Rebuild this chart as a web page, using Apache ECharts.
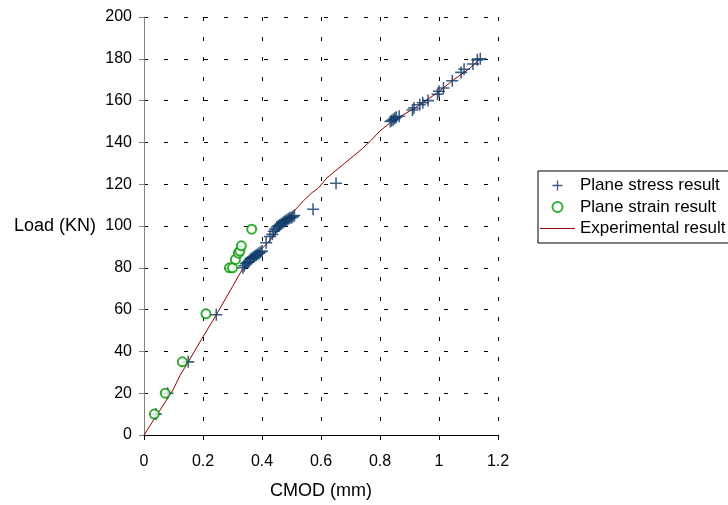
<!DOCTYPE html>
<html>
<head>
<meta charset="utf-8">
<script src="https://cdn.jsdelivr.net/npm/echarts@6/dist/echarts.min.js"></script>
<style>
  html, body { margin: 0; padding: 0; background: #fff; }
  #chart { width: 728px; height: 505px; }
</style>
</head>
<body>
<div id="chart"></div>
<script>
// CMOD (mm), Load (KN)
const stressData = [
  [0.04, 10], [0.08, 20], [0.15, 35], [0.245, 57.5],
  [0.335, 80], [0.34, 81], [0.345, 82], [0.35, 82.5], [0.355, 83], [0.36, 84],
  [0.365, 84.5], [0.37, 85], [0.375, 85.5], [0.38, 86], [0.385, 86.5], [0.39, 87],
  [0.395, 87.5], [0.40, 88], [0.414, 92], [0.427, 95],
  [0.435, 96], [0.44, 97.5], [0.445, 98.5], [0.45, 99.5], [0.455, 100], [0.46, 100.5],
  [0.465, 101], [0.47, 101.5], [0.475, 102], [0.48, 102.5], [0.485, 103], [0.49, 103.5],
  [0.495, 104], [0.50, 104], [0.505, 104.5], [0.51, 105],
  [0.573, 108], [0.651, 120.5],
  [0.835, 150], [0.84, 150.5], [0.845, 151], [0.85, 151.5], [0.855, 152], [0.865, 152.5],
  [0.91, 155.5], [0.915, 156.5], [0.935, 158], [0.945, 159], [0.963, 160],
  [0.995, 163], [1.0, 164.5], [1.015, 166], [1.045, 169.5], [1.075, 173.5],
  [1.085, 175], [1.115, 177.5], [1.13, 179.5], [1.14, 180]
]
const strainData = [
  [0.035, 10], [0.072, 20], [0.13, 35], [0.21, 58], [0.29, 80], [0.30, 80],
  [0.31, 84], [0.32, 87], [0.325, 88], [0.33, 90.5], [0.365, 98.5]
]
const expData = [
  [0, 0], [0.05, 11], [0.1, 22], [0.122, 28.5], [0.15, 35], [0.2, 47], [0.245, 57.5],
  [0.3, 71], [0.336, 80], [0.37, 85], [0.416, 91.5], [0.46, 99], [0.495, 105],
  [0.54, 112], [0.57, 116], [0.59, 118], [0.62, 123], [0.68, 130], [0.74, 137],
  [0.77, 141], [0.8, 145.5], [0.835, 149.5], [0.87, 152.5], [0.913, 156],
  [0.95, 159.5], [0.992, 163.5], [1.05, 170], [1.1, 175], [1.14, 180]
]
const xTicks = { min: 0, max: 1.2, interval: 0.2 }
const yTicks = { min: 0, max: 200, interval: 20 }

const plusPath = 'path://M-0.13,-1L0.13,-1L0.13,-0.13L1,-0.13L1,0.13L0.13,0.13L0.13,1L-0.13,1L-0.13,0.13L-1,0.13L-1,-0.13L-0.13,-0.13Z'
const linePath = 'path://M0,0L35,0L35,1L0,1Z'
const font = 'Liberation Sans, Arial, sans-serif'

let chart = echarts.init(document.getElementById('chart'))
chart.setOption({
  animation: false,
  textStyle: { fontFamily: font },
  grid: { left: 144, right: 230, top: 17, bottom: 68 },
  legend: {
    orient: 'vertical',
    left: 538,
    top: 171,
    padding: [6, 80, 6, 2],
    itemWidth: 35,
    itemHeight: 10,
    itemGap: 4.5,
    borderColor: '#000',
    borderWidth: 1,
    textStyle: { fontSize: 17, color: '#000', lineHeight: 16, fontFamily: font },
    data: [
      { name: 'Plane stress result', icon: plusPath },
      { name: 'Plane strain result', icon: 'emptyCircle' },
      { name: 'Experimental result', icon: linePath }
    ]
  },
  xAxis: {
    type: 'value',
    min: xTicks.min,
    max: xTicks.max,
    interval: xTicks.interval,
    name: 'CMOD (mm)',
    nameLocation: 'middle',
    nameGap: 47,
    nameTextStyle: { fontSize: 18, color: '#000' },
    axisLine: { lineStyle: { color: '#000', width: 1 } },
    axisTick: { length: 5, lineStyle: { color: '#000' } },
    axisLabel: { fontSize: 16, color: '#000', margin: 19 },
    // 网格线
    splitLine: {
      show: true,
      lineStyle: { color: '#000', width: 1, type: [4, 16] }
    }
  },
  yAxis: {
    type: 'value',
    min: yTicks.min,
    max: yTicks.max,
    interval: yTicks.interval,
    name: 'Load (KN)',
    nameLocation: 'middle',
    nameRotate: 0,
    nameGap: 48,
    nameTextStyle: { fontSize: 18, color: '#000', align: 'right' },
    axisLine: { show: true, lineStyle: { color: '#808080', width: 1 } },
    axisTick: { show: true, length: 5, lineStyle: { color: '#808080' } },
    axisLabel: { fontSize: 16, color: '#000', margin: 12 },
    // 网格线
    splitLine: {
      show: true,
      lineStyle: { color: '#000', width: 1, type: [4, 16] }
    }
  },
  series: [
    {
      name: 'Plane stress result',
      type: 'scatter',
      symbol: plusPath,
      symbolSize: 12,
      itemStyle: { color: '#0b3768' },
      data: stressData,
      z: 3
    },
    {
      name: 'Plane strain result',
      type: 'scatter',
      symbol: 'emptyCircle',
      symbolSize: 9,
      itemStyle: { color: '#009900', borderColor: '#009900', borderWidth: 1.5 },
      data: strainData,
      z: 4
    },
    {
      name: 'Experimental result',
      type: 'line',
      symbol: 'none',
      lineStyle: { color: '#990000', width: 1 },
      itemStyle: { color: '#990000' },
      data: expData,
      z: 2
    }
  ]
})
</script>
</body>
</html>
